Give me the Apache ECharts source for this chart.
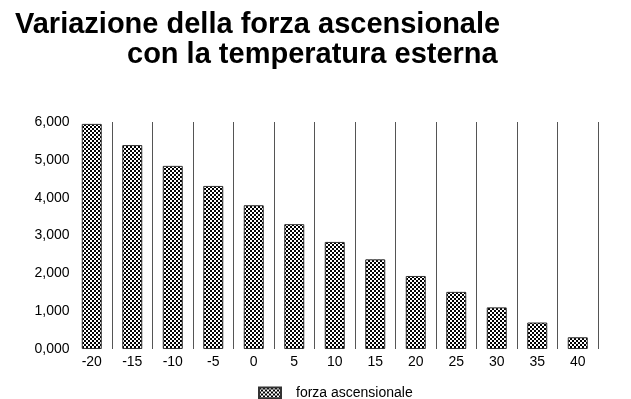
<!DOCTYPE html>
<html>
<head>
<meta charset="utf-8">
<script src="https://cdn.jsdelivr.net/npm/echarts@6/dist/echarts.min.js"></script>
<style>
	html, body { margin: 0; padding: 0; background: #fff; }
	#chartWrapper { width: 631px; height: 399px; }
</style>
</head>
<body>
<div id="chartWrapper"></div>
<script>
// 資料
const temperature = ["-20", "-15", "-10", "-5", "0", "5", "10", "15", "20", "25", "30", "35", "40"]
const forzaAscensionale = [5950, 5390, 4840, 4310, 3800, 3300, 2830, 2370, 1930, 1510, 1100, 700, 310]
const yTickLabels = ["0,000", "1,000", "2,000", "3,000", "4,000", "5,000", "6,000"]
const seriesName = "forza ascensionale"
const titleLines = ["Variazione della forza ascensionale", "con la temperatura esterna"]

const fontFamily = "'Liberation Sans', Arial, sans-serif"

// 網點圖樣
function makePattern() {
	const c = document.createElement("canvas")
	c.width = 4
	c.height = 4
	const ctx = c.getContext("2d")
	ctx.fillStyle = "#fff"
	ctx.fillRect(0, 0, 4, 4)
	ctx.fillStyle = "#000"
	ctx.fillRect(0, 0, 2, 2)
	ctx.fillRect(2, 2, 2, 2)
	return c
}

const myChart = echarts.init(document.getElementById("chartWrapper"), null, { renderer: "canvas" })
const pattern = { image: makePattern(), repeat: "repeat" }

const titleStyle = {
	fontFamily: fontFamily,
	fontSize: 29,
	fontWeight: "bold",
	color: "#000"
}

let option = {
	backgroundColor: "#fff",
	animation: false,
	title: [
		{ text: titleLines[0], left: 15, top: 10, padding: 0, textStyle: titleStyle },
		{ text: titleLines[1], left: 127, top: 40, padding: 0, textStyle: titleStyle }
	],
	grid: {
		left: 71.5,
		right: 33,
		top: 122,
		bottom: 50,
		containLabel: false
	},
	legend: {
		left: 258,
		top: 386,
		padding: 0,
		icon: "rect",
		itemWidth: 22,
		itemHeight: 11,
		textStyle: {
			fontFamily: fontFamily,
			fontSize: 14,
			color: "#000",
			padding: [0, 0, 0, 10]
		},
		data: [seriesName]
	},
	xAxis: {
		type: "category",
		data: temperature,
		boundaryGap: true,
		axisLine: { show: false },
		axisTick: { show: false },
		axisLabel: {
			interval: 0,
			margin: 6,
			fontFamily: fontFamily,
			fontSize: 14,
			color: "#000"
		},
		splitLine: {
			show: true,
			interval: 0,
			showMinLine: false,
			showMaxLine: true,
			lineStyle: { color: "#555", width: 1 }
		}
	},
	yAxis: {
		type: "value",
		min: 0,
		max: 6000,
		interval: 1000,
		axisLine: { show: false },
		axisTick: { show: false },
		splitLine: { show: false },
		axisLabel: {
			margin: 2,
			fontFamily: fontFamily,
			fontSize: 14,
			color: "#000",
			formatter: (v) => yTickLabels[Math.round(v / 1000)]
		}
	},
	series: [
		{
			name: seriesName,
			type: "bar",
			barWidth: 20,
			data: forzaAscensionale,
			itemStyle: {
				color: pattern,
				borderColor: "#333",
				borderWidth: 1
			}
		}
	]
}

myChart.setOption(option)
</script>
</body>
</html>
